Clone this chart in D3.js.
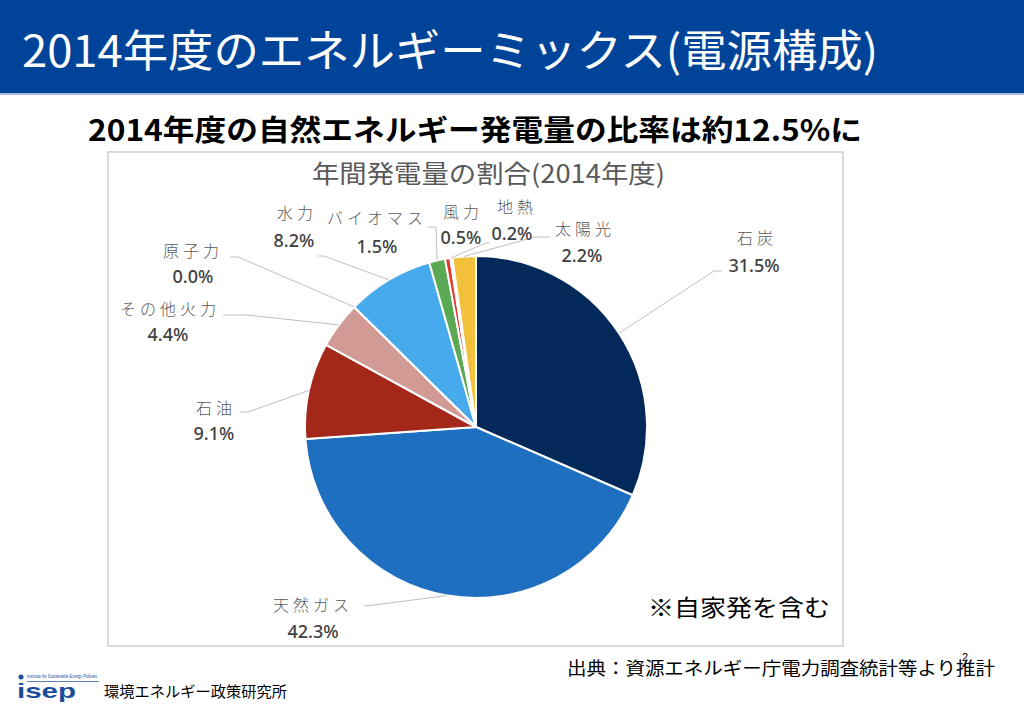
<!DOCTYPE html>
<html><head><meta charset="utf-8">
<script src="https://cdn.jsdelivr.net/npm/d3@7"></script>
<style>
html,body{margin:0;padding:0;background:#fff;}
svg{display:block;}
</style></head>
<body>
<svg id="c" width="1024" height="708"></svg>
<script>
// ---- data ----
const categories = ["石炭","天然ガス","石油","その他火力","原子力","水力","バイオマス","風力","地熱","太陽光"];
const shares = [31.5, 42.3, 9.1, 4.4, 0.0, 8.2, 1.5, 0.5, 0.2, 2.2];
const sliceColors = ["#03295b","#1f6fc0","#a3281a","#d19a94","#8c8c8c","#46aaec","#5ba954","#e2372b","#b8c496","#f3c03b"];
const mainTitle = "2014年度のエネルギーミックス(電源構成)";
const subTitle = "2014年度の自然エネルギー発電量の比率は約12.5%に";
const chartTitle = "年間発電量の割合(2014年度)";
const noteText = "※自家発を含む";
const sourceText = "出典：資源エネルギー庁電力調査統計等より推計";
const orgText = "環境エネルギー政策研究所";

// ---- layout (label anchors, not data) ----
const labelPos = {
  "石炭":[755,238], "天然ガス":[311,605], "石油":[214,408], "その他火力":[168,309],
  "原子力":[191,251], "水力":[295,213], "バイオマス":[375,218], "風力":[461,212],
  "地熱":[515,207], "太陽光":[583,229]
};
const pctPos = {
  "石炭":[754,266], "天然ガス":[313,632], "石油":[214,434], "その他火力":[168,335],
  "原子力":[193,277], "水力":[294,241], "バイオマス":[377,247], "風力":[461,238],
  "地熱":[512,234], "太陽光":[582,256]
};
const leaderStart = {
  "石炭":[[722,271],[714,271]], "天然ガス":[[364,606],[374,605]], "石油":[[240,412],[248,412]],
  "その他火力":[[223,315],[246,315]], "原子力":[[230,257],[238,257]], "水力":[[318,256],[324,256]],
  "バイオマス":[[428,227],[436,227]], "地熱":[[490,243],[486,243]], "太陽光":[[550,237],[535,237]]
};

const svg = d3.select("#c");
const JP = "'Noto Sans CJK JP','Noto Sans',sans-serif";

// title bar
svg.append("rect").attr("x",0).attr("y",0).attr("width",1024).attr("height",93).attr("fill","#00449a");
svg.append("rect").attr("x",0).attr("y",93).attr("width",1024).attr("height",2).attr("fill","#a9bcdc");
svg.append("text").attr("x",22).attr("y",67).attr("fill","#fff")
  .attr("font-family",JP).attr("font-size",44)
  .attr("textLength",856).attr("lengthAdjust","spacingAndGlyphs").text(mainTitle);

// subtitle
svg.append("text").attr("x",88).attr("y",141).attr("fill","#000")
  .attr("font-family",JP).attr("font-weight",700).attr("font-size",29)
  .attr("textLength",774).attr("lengthAdjust","spacingAndGlyphs").text(subTitle);

// chart box
svg.append("rect").attr("x",108).attr("y",152).attr("width",735).attr("height",494)
  .attr("fill","#fff").attr("stroke","#d9d9d9").attr("stroke-width",2);

svg.append("text").attr("x",312).attr("y",183).attr("fill","#595959")
  .attr("font-family",JP).attr("font-size",25)
  .attr("textLength",353).attr("lengthAdjust","spacingAndGlyphs").text(chartTitle);

// pie
const cx = 476, cy = 427, R = 171;
const pie = d3.pie().sort(null).value(d => d.v);
const arcs = pie(categories.map((c,i)=>({c, v: shares[i], col: sliceColors[i]})));
const arc = d3.arc().innerRadius(0).outerRadius(R);
const edge = d3.arc().innerRadius(R).outerRadius(R);
const g = svg.append("g").attr("transform",`translate(${cx},${cy})`);
g.selectAll("path").data(arcs).join("path")
  .attr("d",arc).attr("fill",d=>d.data.col)
  .attr("stroke","#fff").attr("stroke-width",2).attr("stroke-linejoin","round");

// leader lines
const line = d3.line();
arcs.forEach(a => {
  const ls = leaderStart[a.data.c];
  if (!ls) return;
  const p = edge.centroid(a);
  const pts = ls.concat([[cx + p[0], cy + p[1]]]);
  svg.append("path").attr("d",line(pts)).attr("fill","none")
    .attr("stroke","#bfbfbf").attr("stroke-width",1);
});

// labels
arcs.forEach(a => {
  const c = a.data.c;
  const lp = labelPos[c], pp = pctPos[c];
  svg.append("text").attr("x",lp[0]+2).attr("y",lp[1]+6).attr("text-anchor","middle")
    .attr("fill","#595959").attr("font-family",JP).attr("font-size",16).attr("font-weight",300)
    .attr("letter-spacing",4).text(c);
  svg.append("text").attr("x",pp[0]).attr("y",pp[1]+6).attr("text-anchor","middle")
    .attr("fill","#404040").attr("font-family","'Noto Sans',sans-serif").attr("font-size",18)
    .attr("font-weight",500).text(a.data.v.toFixed(1)+"%");
});

// note
svg.append("text").attr("x",648).attr("y",616).attr("fill","#000")
  .attr("font-family",JP).attr("font-size",23)
  .attr("textLength",182).attr("lengthAdjust","spacingAndGlyphs").text(noteText);

// source
svg.append("text").attr("x",567).attr("y",675).attr("fill","#000")
  .attr("font-family",JP).attr("font-size",18).attr("font-weight",400)
  .attr("textLength",428).attr("lengthAdjust","spacingAndGlyphs").text(sourceText);
svg.append("text").attr("x",962).attr("y",661).attr("fill","#000")
  .attr("font-family","'Liberation Sans',sans-serif").attr("font-size",11).text("2");

// logo
svg.append("circle").attr("cx",21).attr("cy",677).attr("r",2.5).attr("fill","#1b4d9e");
svg.append("text").attr("x",27).attr("y",678).attr("fill","#1b4d9e")
  .attr("font-family","'Liberation Sans',sans-serif").attr("font-size",5)
  .attr("textLength",70).attr("lengthAdjust","spacingAndGlyphs").text("Institute for Sustainable Energy Policies");
svg.append("rect").attr("x",27).attr("y",681).attr("width",72).attr("height",0.7).attr("fill","#1b4d9e");
svg.append("text").attr("x",17).attr("y",698).attr("fill","#1b4d9e")
  .attr("font-family","'Liberation Sans',sans-serif").attr("font-weight",700).attr("font-size",21)
  .attr("textLength",59).attr("lengthAdjust","spacingAndGlyphs").text("isep");
svg.append("text").attr("x",104).attr("y",697).attr("fill","#000")
  .attr("font-family",JP).attr("font-size",15)
  .attr("textLength",183).attr("lengthAdjust","spacingAndGlyphs").text(orgText);
</script>
</body></html>
